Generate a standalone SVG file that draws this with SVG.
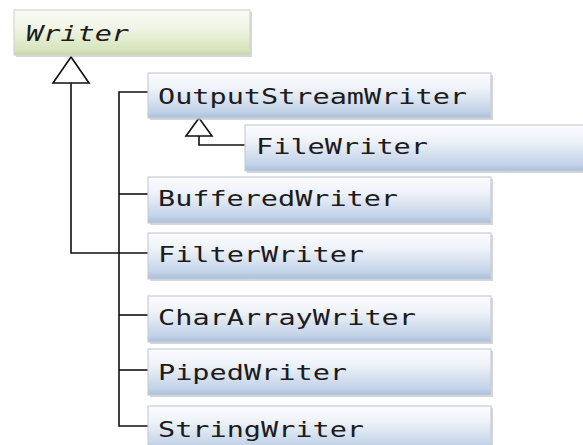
<svg xmlns="http://www.w3.org/2000/svg" width="583" height="445" viewBox="0 0 583 445">
<defs>
<linearGradient id="gBlue" x1="0" y1="0" x2="0" y2="1">
<stop offset="0" stop-color="#fbfcfe"/>
<stop offset="0.35" stop-color="#eef2f8"/>
<stop offset="0.85" stop-color="#c3d3e8"/>
<stop offset="1" stop-color="#a9bfdb"/>
</linearGradient>
<linearGradient id="gGreen" x1="0" y1="0" x2="0" y2="1">
<stop offset="0" stop-color="#fbfcf6"/>
<stop offset="0.4" stop-color="#f0f5e4"/>
<stop offset="0.9" stop-color="#d6e3bb"/>
<stop offset="1" stop-color="#c5d6a3"/>
</linearGradient>
<marker id="inh" markerWidth="40" markerHeight="30" refX="0" refY="0" orient="auto" markerUnits="userSpaceOnUse"/>
</defs>
<style>
.box{fill:url(#gBlue);stroke:#c9ced6;stroke-width:1.2}
.shadow{fill:#b7bcc4;opacity:0.6}
.wbox{fill:url(#gGreen);stroke:#d2d6ca;stroke-width:1.2}
.lbl{font-family:"DejaVu Sans Mono","Liberation Mono",monospace;font-size:21px;fill:#1c1c1c}
.it{font-style:italic}
.ln{fill:none;stroke:#111;stroke-width:1.6}
.tri{fill:#fff;stroke:#111;stroke-width:1.6;stroke-linejoin:miter}
</style>
<rect width="583" height="445" fill="#fff"/>
<g id="connectors">
<polyline class="ln" points="71,83 71,253 148,253"/>
<polyline class="ln" points="148,92 119,92 119,426 148,426"/>
<line class="ln" x1="119" y1="194" x2="148" y2="194"/>
<line class="ln" x1="119" y1="315" x2="148" y2="315"/>
<line class="ln" x1="119" y1="370" x2="148" y2="370"/>
<polyline class="ln" points="199,136 199,145 245,145"/>
<polygon class="tri" points="71,57 53,83 89,83"/>
<polygon class="tri" points="199,118 186,136 212,136"/>
</g>
<g id="writer">
<rect class="shadow" x="16" y="12" width="236" height="45"/>
<rect class="wbox" x="14" y="10" width="236" height="45"/>
<text class="lbl it" x="26" y="41" textLength="103" lengthAdjust="spacingAndGlyphs">Writer</text>
</g>
<g id="outputStreamWriter">
<rect class="shadow" x="150" y="75" width="343" height="45"/>
<rect class="box" x="148" y="73" width="343" height="45"/>
<text class="lbl" x="158" y="104" textLength="309" lengthAdjust="spacingAndGlyphs">OutputStreamWriter</text>
</g>
<g id="fileWriter">
<rect class="shadow" x="247" y="127" width="345" height="46"/>
<rect class="box" x="245" y="125" width="345" height="46"/>
<text class="lbl" x="256" y="154" textLength="172" lengthAdjust="spacingAndGlyphs">FileWriter</text>
</g>
<g id="bufferedWriter">
<rect class="shadow" x="150" y="179" width="343" height="46"/>
<rect class="box" x="148" y="177" width="343" height="46"/>
<text class="lbl" x="158" y="206" textLength="240" lengthAdjust="spacingAndGlyphs">BufferedWriter</text>
</g>
<g id="filterWriter">
<rect class="shadow" x="150" y="235" width="343" height="46"/>
<rect class="box" x="148" y="233" width="343" height="46"/>
<text class="lbl" x="158" y="262" textLength="206" lengthAdjust="spacingAndGlyphs">FilterWriter</text>
</g>
<g id="charArrayWriter">
<rect class="shadow" x="150" y="298" width="343" height="46"/>
<rect class="box" x="148" y="296" width="343" height="46"/>
<text class="lbl" x="158" y="325" textLength="258" lengthAdjust="spacingAndGlyphs">CharArrayWriter</text>
</g>
<g id="pipedWriter">
<rect class="shadow" x="150" y="351" width="343" height="46"/>
<rect class="box" x="148" y="349" width="343" height="46"/>
<text class="lbl" x="158" y="380" textLength="189" lengthAdjust="spacingAndGlyphs">PipedWriter</text>
</g>
<g id="stringWriter">
<rect class="shadow" x="150" y="408" width="343" height="46"/>
<rect class="box" x="148" y="406" width="343" height="46"/>
<text class="lbl" x="158" y="437" textLength="206" lengthAdjust="spacingAndGlyphs">StringWriter</text>
</g>
</svg>
